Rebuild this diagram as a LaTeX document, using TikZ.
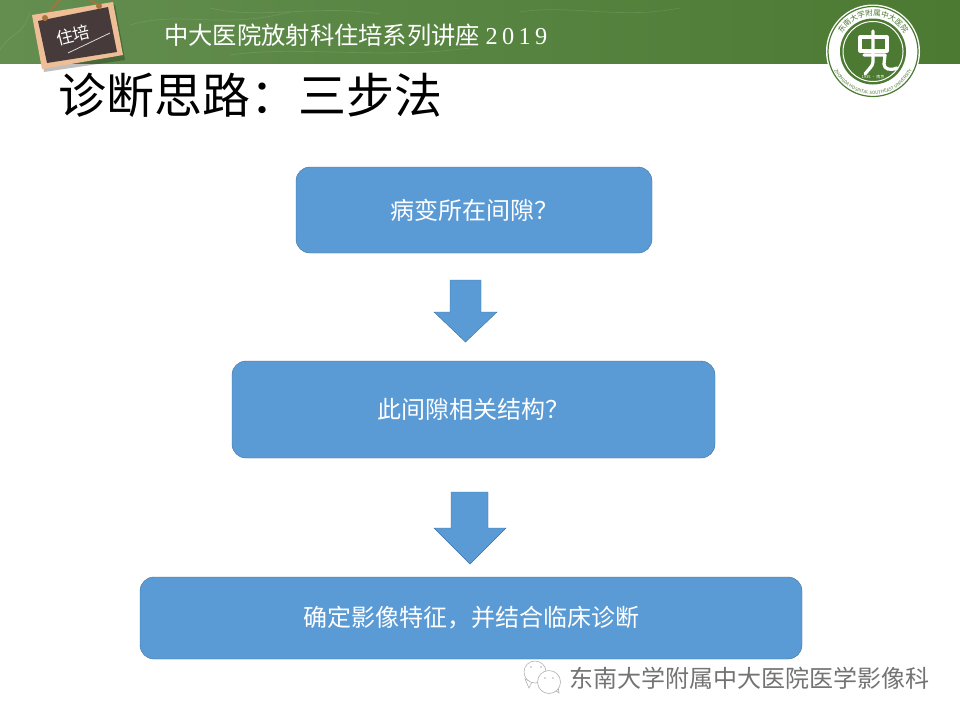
\documentclass[tikz,border=0pt]{standalone}
\usepackage{fontspec}
\usetikzlibrary{decorations.text}
\setmainfont{Noto Sans CJK SC}
\newfontfamily\latinserif[LetterSpace=18]{Liberation Serif}
\definecolor{bandgreen}{HTML}{638E50}
\definecolor{logogreen}{HTML}{4C7A32}
\definecolor{boxblue}{HTML}{5B9BD5}
\definecolor{boxedge}{HTML}{41719C}
\definecolor{framepink}{HTML}{F0BE96}
\definecolor{boardgray}{HTML}{463A3A}
\definecolor{ropetan}{HTML}{A9743C}
\begin{document}
\begin{tikzpicture}
[x=1pt,y=-1pt
,stepbox/.style={draw=boxedge,fill=boxblue,rounded corners=14pt,text=white,font=\fontsize{24}{28}\selectfont}
,downarrow/.style={draw=boxedge,fill=boxblue}
,ropeline/.style={draw=ropetan,line width=1.6pt,line cap=round}
,bandtext/.style={text=white,font=\fontsize{24.3}{28}\selectfont,inner sep=0pt,anchor=west}
,logostroke/.style={draw=white,line width=3.2pt,line cap=round,line join=round}
,bandmark/.style={draw=white,opacity=0.10,line width=0.7pt}
,chatline/.style={draw=gray!60,fill=white,line width=0.6pt}
]
\useasboundingbox (0,0) rectangle (960,720);
\fill[white] (0,0) rectangle (960,720);
% header band
\shade[left color=bandgreen,right color=logogreen] (0,0) rectangle (960,63);
\draw[bandmark] (0,50) .. controls (12,30) and (20,40) .. (30,12);
\draw[bandmark] (130,25) .. controls (180,10) and (220,30) .. (290,12);
\draw[bandmark] (210,8) .. controls (260,20) and (320,4) .. (380,14);
\draw[bandmark] (230,55) .. controls (300,45) and (380,60) .. (470,48);
\draw[bandmark] (520,12) .. controls (570,4) and (620,20) .. (680,8);
\node[bandtext] (bandtitle) at (164,35) {中大医院放射科住培系列讲座 {\latinserif 2019}};
% chalkboard
\draw[ropeline] (45,20) .. controls (48,12) and (54,6) .. (60,0);
\draw[ropeline] (99,7) .. controls (96,4) and (94,2) .. (90,0);
\fill[black,opacity=0.25] (34,21) -- (115,5) -- (125,60) -- (44,72) -- cycle;
\fill[framepink] (32,15) -- (113,2) -- (123,55) -- (42,69) -- cycle;
\fill[boardgray] (38,21) -- (108,7) -- (117,52) -- (47,63) -- cycle;
\fill[ropetan] (45,18) circle[radius=3pt];
\fill[ropetan] (99,6) circle[radius=3pt];
\node[text=white,rotate=14,font=\fontsize{17}{20}\selectfont,inner sep=0pt] (boardtext) at (73,35) {住培};
\coordinate (chalkA) at (68,53);
\coordinate (chalkB) at (110,33);
\draw[white!85!black,line width=0.8pt] (chalkA) -- (chalkB);
% logo
\node[circle,fill=white,minimum size=94pt,inner sep=0pt] (logo) at (873,51.5) {};
\node[circle,draw=logogreen,line width=1.2pt,minimum size=90pt,inner sep=0pt] (logoedge) at (logo) {};
\node[circle,fill=logogreen,minimum size=66pt,inner sep=0pt] (logocore) at (logo) {};
\node[circle,draw=white,line width=1pt,minimum size=60pt,inner sep=0pt] (logoinner) at (logo) {};
\draw[logostroke] (860,37) -- (887,37) -- (887,51) -- (860,51) -- cycle;
\draw[logostroke] (873,31) -- (873,62) .. controls (873,66) and (868,70) .. (865,74);
\draw[logostroke] (864,55) -- (885,55) -- (884,64) .. controls (884,69) and (890,71) .. (897,68);
\path[postaction={decorate,decoration={text along path,text align=center,text={|\fontsize{7.5}{8}\selectfont\color{logogreen}|东南大学附属中大医院}}}]
 (837,51.5) arc[start angle=180,end angle=360,radius=36];
\path[postaction={decorate,decoration={text along path,text align=center,text={|\fontsize{4.5}{5}\selectfont\color{logogreen}|ZHONGDA HOSPITAL SOUTHEAST UNIVERSITY}}}]
 (830,51.5) arc[start angle=180,end angle=0,radius=43];
\node[text=white,font=\fontsize{4}{5}\selectfont,inner sep=0pt] (logoyear) at (873,77) {1935 • 南京};
% title
\node[inner sep=0pt,anchor=west,font=\fontsize{48}{52}\selectfont] (title) at (58,95) {诊断思路^^^^ff1a三步法};
% steps
\node[stepbox,minimum width=356pt,minimum height=86pt] (s1) at (474,210) {病变所在间隙^^^^ff1f};
\node[stepbox,minimum width=483pt,minimum height=97pt] (s2) at (473.5,409.5) {此间隙相关结构^^^^ff1f};
\node[stepbox,minimum width=662pt,minimum height=82pt] (s3) at (471,618) {确定影像特征^^^^ff0c并结合临床诊断};
\draw[downarrow] (450,280) -- (481,280) -- (481,312) -- (497,312) -- (465.5,342) -- (434,312) -- (450,312) -- cycle;
\draw[downarrow] (451,492) -- (488,492) -- (488,528) -- (506,528) -- (470,564) -- (434,528) -- (451,528) -- cycle;
% footer mark
\draw[chatline] (525,679) -- (529,688) -- (532,682) -- cycle;
\node[circle,chatline,minimum size=22pt,inner sep=0pt] (chat1) at (535,672) {};
\draw[chatline] (552,688) -- (559,693) -- (558,686) -- cycle;
\node[circle,chatline,minimum size=23pt,inner sep=0pt] (chat2) at (549,682) {};
\fill[gray!60] (531,667) circle[radius=0.8pt] (541,667) circle[radius=0.8pt] (545,678) circle[radius=0.8pt] (553,678) circle[radius=0.8pt];
\node[text=gray!90!black,font=\fontsize{24}{28}\selectfont,inner sep=0pt,anchor=west] (footer) at (569,678) {东南大学附属中大医院医学影像科};
\end{tikzpicture}
\end{document}
